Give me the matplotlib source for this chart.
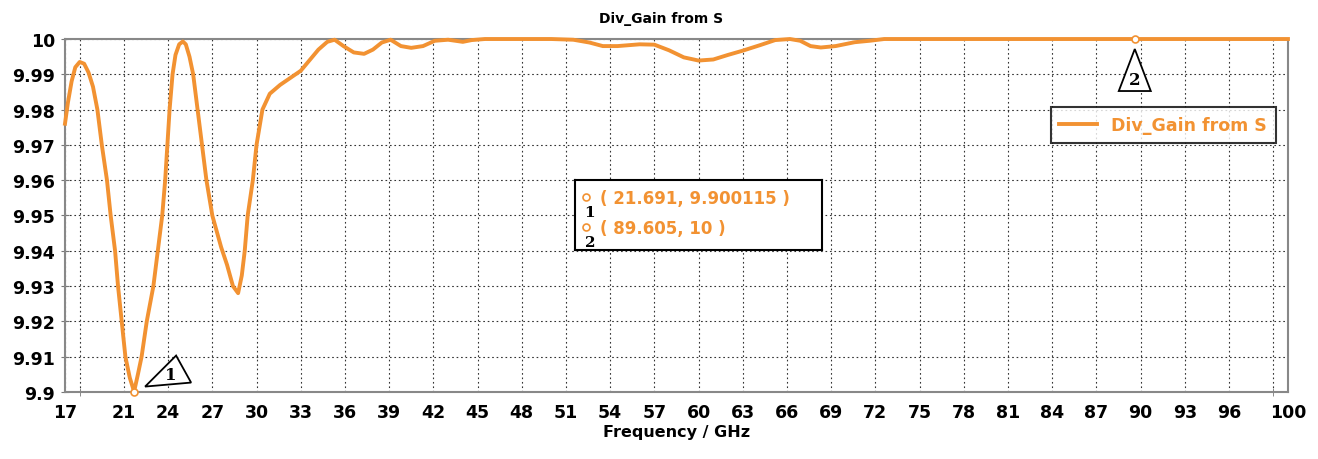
import matplotlib.pyplot as plt
import matplotlib.transforms as mtransforms
from matplotlib.patches import Polygon

# curve
freq = [17.0, 17.2, 17.45, 17.7, 18.0, 18.3, 18.6, 18.9, 19.2, 19.5, 19.85, 20.1,
        20.4, 20.6, 20.85, 21.1, 21.4, 21.691, 21.95, 22.2, 22.55, 23.0, 23.3,
        23.6, 23.8, 23.95, 24.1, 24.3, 24.5, 24.75, 25.0, 25.2, 25.45, 25.7, 26.0,
        26.3, 26.6, 27.0, 27.6, 28.0, 28.4, 28.75, 29.0, 29.2, 29.4, 29.75, 30.0,
        30.4, 30.9, 31.6, 32.3, 33.0, 33.6, 34.2, 34.8, 35.3, 35.9, 36.6, 37.3,
        37.9, 38.5, 39.1, 39.8, 40.5, 41.3, 42.1, 43.0, 44.0, 44.6, 45.5, 47.0,
        50.0, 51.5, 52.6, 53.5, 54.5, 56.0, 57.0, 58.0, 59.0, 60.0, 61.0, 62.0,
        63.0, 64.2, 65.2, 66.2, 66.9, 67.6, 68.3, 69.3, 70.6, 71.6, 72.6, 89.605,
        100.0]
gain = [9.976, 9.982, 9.988, 9.992, 9.9935, 9.993, 9.9905, 9.9865, 9.980, 9.970,
        9.960, 9.950, 9.940, 9.930, 9.920, 9.910, 9.904, 9.900115, 9.905, 9.910,
        9.920, 9.930, 9.940, 9.950, 9.960, 9.970, 9.980, 9.990, 9.9955, 9.9985,
        9.9993, 9.9985, 9.995, 9.990, 9.980, 9.970, 9.960, 9.950, 9.941, 9.936,
        9.930, 9.928, 9.933, 9.940, 9.950, 9.960, 9.970, 9.980, 9.9845, 9.987,
        9.989, 9.991, 9.994, 9.997, 9.9992, 9.9998, 9.998, 9.9962, 9.9958, 9.997,
        9.999, 9.9998, 9.998, 9.9975, 9.998, 9.9995, 9.9998, 9.9992, 9.9997,
        10.0, 10.0, 10.0, 9.9998, 9.999, 9.998, 9.998, 9.9985, 9.9984, 9.9968,
        9.9948, 9.9939, 9.9942, 9.9955, 9.9967, 9.9983, 9.9997, 10.0, 9.9995,
        9.998, 9.9976, 9.998, 9.9991, 9.9995, 10.0, 10.0, 10.0]

marker_x = [21.691, 89.605]
marker_y = [9.900115, 10.0]
marker_names = ["1", "2"]
marker_readouts = ["( 21.691, 9.900115 )", "( 89.605, 10 )"]

xtick_labels = [17] + list(range(21, 97, 3)) + [100]
xgrid = list(range(18, 100, 3))
yticks = [9.9, 9.91, 9.92, 9.93, 9.94, 9.95, 9.96, 9.97, 9.98, 9.99, 10.0]
ytick_labels = ["9.9", "9.91", "9.92", "9.93", "9.94", "9.95", "9.96", "9.97",
                "9.98", "9.99", "10"]

orange = '#F29232'

fig = plt.figure(figsize=(13.18, 4.6), dpi=100)
ax = fig.add_axes([0.0493, 0.1457, 0.9279, 0.7673])

ax.plot(freq, gain, color=orange, lw=2.8, label='Div_Gain from S', clip_on=False,
        zorder=3, solid_joinstyle='round')
ax.plot(marker_x, marker_y, 'o', ms=5, mfc='white', mec=orange, mew=1.2, clip_on=False, zorder=4)

ax.set_xlim(17, 100)
ax.set_ylim(9.9, 10.0)
ax.set_xticks(xtick_labels)
ax.set_xticklabels([str(v) for v in xtick_labels])
ax.set_xticks(xgrid, minor=True)
ax.set_yticks(yticks)
ax.set_yticklabels(ytick_labels)

grid_kw = dict(color='#333333', ls=(0, (1.5, 2.5)), lw=0.8)
ax.grid(True, axis='x', which='both', **grid_kw)
ax.grid(True, axis='y', which='major', **grid_kw)
ax.tick_params(axis='both', which='both', direction='inout', length=6, color='#777777')
ax.tick_params(axis='x', which='major', length=0, pad=8)
ax.tick_params(axis='y', which='major', pad=4)
for lab in ax.get_xticklabels() + ax.get_yticklabels():
    lab.set_fontweight('bold')
    lab.set_fontsize(12.5)
for s in ax.spines.values():
    s.set_color('#888888')
    s.set_linewidth(1.5)

ax.set_title('Div_Gain from S', fontsize=10, fontweight='bold', pad=12, x=0.487)
ax.set_xlabel('Frequency / GHz', fontsize=11.5, fontweight='bold', labelpad=2)

leg = ax.legend(loc='upper right', bbox_to_anchor=(0.990, 0.807), borderaxespad=0,
                fancybox=False, handlelength=2.2, prop={'weight': 'bold', 'size': 12.5},
                labelcolor=orange, borderpad=0.5)
leg.get_frame().set_edgecolor('black')
leg.get_frame().set_linewidth(1.5)

# marker triangles, drawn at inch offsets from each marker
tri_offsets = [
    [(0.11, 0.05), (0.42, 0.36), (0.57, 0.09)],
    [(0.0, -0.10), (-0.16, -0.52), (0.16, -0.52)],
]
num_offsets = [(0.37, 0.17), (0.0, -0.40)]
for mx, my, name, tri, no in zip(marker_x, marker_y, marker_names, tri_offsets, num_offsets):
    tr = fig.dpi_scale_trans + mtransforms.ScaledTranslation(mx, my, ax.transData)
    ax.add_patch(Polygon(tri, closed=True, fc='white', ec='black', lw=1.3,
                         transform=tr, clip_on=False, zorder=5))
    ax.text(no[0], no[1], name, transform=tr, ha='center', va='center',
            fontsize=12, fontweight='bold', family='DejaVu Serif', zorder=6)

# marker readout box
box = fig.add_axes([575 / 1318, 1 - 251 / 460, 247 / 1318, 70 / 460])
box.set_xticks([])
box.set_yticks([])
for s in box.spines.values():
    s.set_color('black')
    s.set_linewidth(1.5)
for i, (name, txt) in enumerate(zip(marker_names, marker_readouts)):
    yy = 0.74 - i * 0.43
    box.plot([0.045], [yy + 0.02], 'o', ms=5, mfc='white', mec=orange, mew=1.2)
    box.text(0.06, yy - 0.2, name, fontsize=11, fontweight='bold', family='DejaVu Serif',
             ha='center', va='center')
    box.text(0.1, yy, txt, fontsize=12, fontweight='bold', color=orange,
             ha='left', va='center')
box.set_xlim(0, 1)
box.set_ylim(0, 1)

fig.savefig('out.png', dpi=100)
